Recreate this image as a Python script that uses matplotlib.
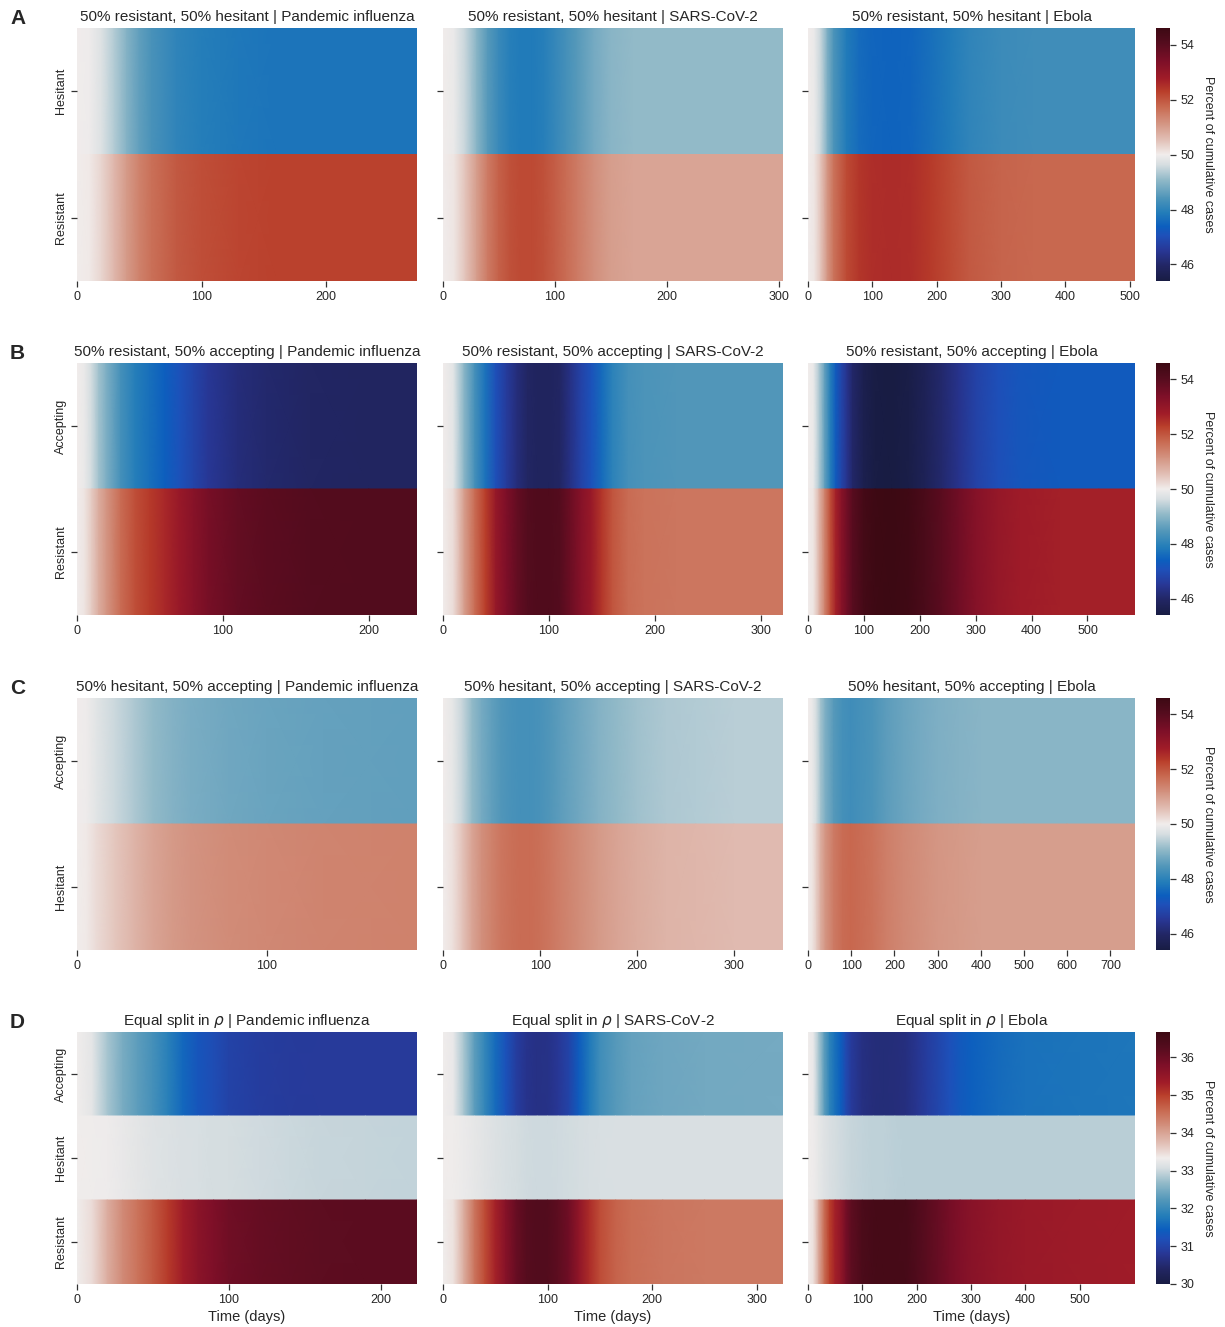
import numpy as np
import matplotlib
matplotlib.use("Agg")
import matplotlib.pyplot as plt
from matplotlib.colors import LinearSegmentedColormap, Normalize
from matplotlib.cm import ScalarMappable

plt.rcParams['font.family'] = ['Liberation Sans', 'DejaVu Sans']
TXT = '#262626'
plt.rcParams['text.color'] = TXT
plt.rcParams['axes.labelcolor'] = TXT
plt.rcParams['xtick.color'] = TXT
plt.rcParams['ytick.color'] = TXT

# ---------------- data ----------------
diseases = ["Pandemic influenza", "SARS-CoV-2", "Ebola"]
row_titles = ["50% resistant, 50% hesitant", "50% resistant, 50% accepting",
              "50% hesitant, 50% accepting", r"Equal split in $\rho$"]
panel_letters = ["A", "B", "C", "D"]
row_labels = [["Hesitant", "Resistant"], ["Accepting", "Resistant"],
              ["Accepting", "Hesitant"], ["Accepting", "Hesitant", "Resistant"]]

# Row A
A_flu_days = [0, 10, 20, 30, 40, 50, 60, 80, 100, 130, 160, 200, 240, 273]
A_flu_hes = [50.0, 49.95, 49.7, 49.35, 48.95, 48.6, 48.35, 48.05, 47.9, 47.8, 47.75, 47.75, 47.75, 47.75]
A_flu_res = [50.0, 50.05, 50.3, 50.65, 51.05, 51.4, 51.65, 51.95, 52.1, 52.2, 52.25, 52.25, 52.25, 52.25]

A_sars_days = [0, 10, 20, 30, 40, 50, 60, 70, 80, 90, 100, 110, 120, 135, 150, 170, 200, 250, 304]
A_sars_hes = [50.0, 49.9, 49.5, 49.0, 48.5, 48.15, 47.95, 47.85, 47.85, 47.95, 48.1, 48.3, 48.5, 48.8, 49.0, 49.1, 49.1, 49.1, 49.1]
A_sars_res = [50.0, 50.1, 50.5, 51.0, 51.5, 51.85, 52.05, 52.15, 52.15, 52.05, 51.9, 51.7, 51.5, 51.2, 51.0, 50.9, 50.9, 50.9, 50.9]

A_ebola_days = [0, 10, 20, 30, 40, 60, 80, 100, 130, 160, 190, 220, 250, 300, 350, 400, 450, 508]
A_ebola_hes = [50.0, 49.9, 49.5, 48.9, 48.4, 47.85, 47.6, 47.5, 47.45, 47.5, 47.65, 47.85, 48.05, 48.2, 48.25, 48.25, 48.25, 48.25]
A_ebola_res = [50.0, 50.1, 50.5, 51.1, 51.6, 52.15, 52.4, 52.5, 52.55, 52.5, 52.35, 52.15, 51.95, 51.8, 51.75, 51.75, 51.75, 51.75]

# Row B
B_flu_days = [0, 5, 10, 15, 20, 30, 40, 50, 60, 70, 80, 90, 110, 130, 160, 200, 233]
B_flu_acc = [50.0, 49.9, 49.6, 49.2, 48.9, 48.3, 47.9, 47.65, 47.4, 47.1, 46.8, 46.5, 46.2, 46.05, 45.95, 45.9, 45.9]
B_flu_res = [50.0, 50.1, 50.4, 50.8, 51.1, 51.7, 52.1, 52.35, 52.6, 52.9, 53.2, 53.5, 53.8, 53.95, 54.05, 54.1, 54.1]

B_sars_days = [0, 10, 20, 30, 40, 50, 60, 70, 80, 90, 100, 110, 120, 130, 140, 150, 160, 175, 190, 220, 260, 321]
B_sars_acc = [50.0, 49.8, 49.0, 48.3, 47.7, 47.05, 46.6, 46.2, 45.95, 45.85, 45.85, 45.95, 46.3, 46.75, 47.1, 47.6, 48.0, 48.3, 48.4, 48.45, 48.45, 48.45]
B_sars_res = [50.0, 50.2, 51.0, 51.7, 52.3, 52.95, 53.4, 53.8, 54.05, 54.15, 54.15, 54.05, 53.7, 53.25, 52.9, 52.4, 52.0, 51.7, 51.6, 51.55, 51.55, 51.55]

B_ebola_days = [0, 10, 20, 30, 40, 50, 60, 70, 80, 100, 120, 150, 180, 210, 240, 270, 300, 340, 380, 450, 520, 585]
B_ebola_acc = [50.0, 49.9, 49.3, 48.6, 47.9, 47.3, 46.8, 46.4, 46.0, 45.6, 45.45, 45.4, 45.5, 45.75, 46.05, 46.4, 46.75, 47.05, 47.2, 47.3, 47.3, 47.3]
B_ebola_res = [50.0, 50.1, 50.7, 51.4, 52.1, 52.7, 53.2, 53.6, 54.0, 54.4, 54.55, 54.6, 54.5, 54.25, 53.95, 53.6, 53.25, 52.95, 52.8, 52.7, 52.7, 52.7]

# Row C
C_flu_days = [0, 5, 10, 20, 30, 40, 50, 60, 80, 100, 130, 179]
C_flu_acc = [50.0, 49.95, 49.8, 49.55, 49.3, 49.1, 48.95, 48.85, 48.75, 48.7, 48.65, 48.6]
C_flu_hes = [50.0, 50.05, 50.2, 50.45, 50.7, 50.9, 51.05, 51.15, 51.25, 51.3, 51.35, 51.4]

C_sars_days = [0, 10, 20, 30, 40, 50, 60, 70, 80, 90, 100, 110, 120, 140, 160, 180, 200, 230, 260, 300, 350]
C_sars_acc = [50.0, 49.85, 49.5, 49.1, 48.8, 48.6, 48.45, 48.35, 48.3, 48.3, 48.35, 48.45, 48.55, 48.75, 48.95, 49.1, 49.2, 49.3, 49.35, 49.4, 49.4]
C_sars_hes = [50.0, 50.15, 50.5, 50.9, 51.2, 51.4, 51.55, 51.65, 51.7, 51.7, 51.65, 51.55, 51.45, 51.25, 51.05, 50.9, 50.8, 50.7, 50.65, 50.6, 50.6]

C_ebola_days = [0, 10, 20, 30, 40, 60, 80, 100, 120, 150, 180, 220, 260, 300, 350, 400, 500, 600, 757]
C_ebola_acc = [50.0, 49.9, 49.6, 49.2, 48.9, 48.5, 48.3, 48.25, 48.3, 48.4, 48.55, 48.7, 48.8, 48.9, 48.95, 49.0, 49.0, 49.0, 49.0]
C_ebola_hes = [50.0, 50.1, 50.4, 50.8, 51.1, 51.5, 51.7, 51.75, 51.7, 51.6, 51.45, 51.3, 51.2, 51.1, 51.05, 51.0, 51.0, 51.0, 51.0]

# Row D
D_flu_days = [0, 10, 20, 30, 40, 50, 60, 70, 80, 90, 100, 120, 140, 160, 190, 224]
D_flu_acc = [33.33, 33.2, 32.8, 32.5, 32.3, 32.1, 31.85, 31.55, 31.3, 31.15, 31.0, 30.9, 30.87, 30.85, 30.85, 30.85]
D_flu_hes = [33.33, 33.32, 33.3, 33.25, 33.2, 33.15, 33.12, 33.1, 33.08, 33.06, 33.05, 33.03, 33.0, 32.98, 32.96, 32.95]
D_flu_res = [33.33, 33.48, 33.9, 34.25, 34.5, 34.75, 35.03, 35.35, 35.62, 35.79, 35.95, 36.07, 36.13, 36.17, 36.19, 36.2]

D_sars_days = [0, 10, 20, 30, 40, 50, 60, 70, 80, 90, 100, 110, 120, 130, 140, 150, 165, 180, 210, 250, 325]
D_sars_acc = [33.33, 33.25, 32.8, 32.3, 31.95, 31.6, 31.25, 30.9, 30.72, 30.67, 30.68, 30.8, 31.0, 31.4, 31.75, 32.05, 32.25, 32.35, 32.42, 32.46, 32.47]
D_sars_hes = [33.33, 33.32, 33.28, 33.22, 33.17, 33.12, 33.08, 33.05, 33.03, 33.02, 33.02, 33.03, 33.04, 33.06, 33.07, 33.08, 33.09, 33.1, 33.1, 33.1, 33.1]
D_sars_res = [33.33, 33.43, 33.92, 34.48, 34.88, 35.28, 35.67, 36.05, 36.25, 36.31, 36.3, 36.17, 35.96, 35.54, 35.18, 34.87, 34.66, 34.55, 34.48, 34.44, 34.43]

D_ebola_days = [0, 10, 20, 30, 40, 50, 60, 70, 80, 100, 120, 140, 160, 180, 200, 220, 240, 260, 280, 300, 350, 400, 500, 602]
D_ebola_acc = [33.33, 33.25, 32.8, 32.3, 31.9, 31.65, 31.45, 31.1, 30.85, 30.65, 30.58, 30.57, 30.58, 30.62, 30.75, 30.9, 31.05, 31.2, 31.35, 31.45, 31.58, 31.66, 31.7, 31.72]
D_ebola_hes = [33.33, 33.3, 33.22, 33.15, 33.1, 33.06, 33.03, 33.0, 32.98, 32.95, 32.93, 32.92, 32.91, 32.9, 32.9, 32.9, 32.9, 32.9, 32.9, 32.9, 32.9, 32.9, 32.9, 32.9]
D_ebola_res = [33.34, 33.45, 33.98, 34.55, 35.0, 35.29, 35.52, 35.9, 36.17, 36.4, 36.49, 36.51, 36.51, 36.48, 36.35, 36.2, 36.05, 35.9, 35.75, 35.65, 35.5, 35.42, 35.38, 35.35]

xticks = [
    [[0, 100, 200], [0, 100, 200, 300], [0, 100, 200, 300, 400, 500]],
    [[0, 100, 200], [0, 100, 200, 300], [0, 100, 200, 300, 400, 500]],
    [[0, 100], [0, 100, 200, 300], [0, 100, 200, 300, 400, 500, 600, 700]],
    [[0, 100, 200], [0, 100, 200, 300], [0, 100, 200, 300, 400, 500]],
]
cbar_ranges = [(45.4, 54.6), (45.4, 54.6), (45.4, 54.6), (30.0, 36.67)]
cbar_ticks = [[46, 48, 50, 52, 54], [46, 48, 50, 52, 54], [46, 48, 50, 52, 54],
              [30, 31, 32, 33, 34, 35, 36]]

panels = [
    [(A_flu_days, [A_flu_hes, A_flu_res]), (A_sars_days, [A_sars_hes, A_sars_res]),
     (A_ebola_days, [A_ebola_hes, A_ebola_res])],
    [(B_flu_days, [B_flu_acc, B_flu_res]), (B_sars_days, [B_sars_acc, B_sars_res]),
     (B_ebola_days, [B_ebola_acc, B_ebola_res])],
    [(C_flu_days, [C_flu_acc, C_flu_hes]), (C_sars_days, [C_sars_acc, C_sars_hes]),
     (C_ebola_days, [C_ebola_acc, C_ebola_hes])],
    [(D_flu_days, [D_flu_acc, D_flu_hes, D_flu_res]), (D_sars_days, [D_sars_acc, D_sars_hes, D_sars_res]),
     (D_ebola_days, [D_ebola_acc, D_ebola_hes, D_ebola_res])],
]

# ---------------- colormap (cmocean 'balance'-like) ----------------
anchors = [
    (0.000, (24, 28, 67)), (0.060, (34, 38, 100)), (0.120, (40, 55, 150)),
    (0.180, (30, 80, 185)), (0.215, (12, 94, 190)), (0.270, (35, 125, 185)),
    (0.330, (80, 150, 185)), (0.400, (145, 185, 200)), (0.460, (215, 222, 225)),
    (0.500, (241, 237, 236)), (0.560, (225, 190, 180)), (0.620, (212, 150, 132)),
    (0.690, (200, 105, 80)), (0.750, (185, 62, 42)), (0.800, (160, 28, 40)),
    (0.870, (125, 15, 40)), (0.940, (85, 12, 30)), (1.000, (60, 9, 19)),
]
cmap = LinearSegmentedColormap.from_list(
    "balance_like", [(p, tuple(c / 255 for c in rgb)) for p, rgb in anchors], N=512)

# ---------------- layout ----------------
W, H = 1225, 1327
fig = plt.figure(figsize=(W / 100, H / 100), dpi=100)

col_x = [(77, 417), (443, 783), (808, 1135)]
row_y = [(28, 281), (363, 615), (698, 950), (1032, 1284)]
cbar_x = (1156, 1170)


def px_rect(x0, x1, y0, y1):
    return [x0 / W, 1 - y1 / H, (x1 - x0) / W, (y1 - y0) / H]


for r in range(4):
    vmin, vmax = cbar_ranges[r]
    norm = Normalize(vmin=vmin, vmax=vmax)
    y0, y1 = row_y[r]
    for c in range(3):
        x0, x1 = col_x[c]
        ax = fig.add_axes(px_rect(x0, x1, y0, y1))
        days, series = panels[r][c]
        days = np.asarray(days, dtype=float)
        nrows = len(series)
        for i, vals in enumerate(series):
            vals = np.asarray(vals, dtype=float)
            X = np.vstack([days, days])
            Y = np.vstack([np.full_like(days, i), np.full_like(days, i + 1)])
            C = np.vstack([vals, vals])
            ax.pcolormesh(X, Y, C, shading='gouraud', cmap=cmap, norm=norm,
                          rasterized=True)
        ax.set_xlim(0, days[-1])
        ax.set_ylim(nrows, 0)
        for s in ax.spines.values():
            s.set_visible(False)
        ax.set_xticks(xticks[r][c])
        ax.set_xticklabels([str(t) for t in xticks[r][c]], fontsize=9)
        ax.set_yticks(np.arange(nrows) + 0.5)
        if c == 0:
            ax.set_yticklabels(row_labels[r], rotation=90, va='center', fontsize=9)
        else:
            ax.set_yticklabels([])
        ax.tick_params(axis='both', direction='out', length=4, width=0.9,
                       color='#333333', pad=3)
        ax.set_title(f"{row_titles[r]} | {diseases[c]}", fontsize=11, pad=5,
                     color=TXT)
        if r == 3:
            ax.set_xlabel("Time (days)", fontsize=10.5, labelpad=3)
    # colorbar
    cax = fig.add_axes(px_rect(cbar_x[0], cbar_x[1], y0, y1))
    sm = ScalarMappable(norm=norm, cmap=cmap)
    cb = fig.colorbar(sm, cax=cax)
    cb.outline.set_visible(False)
    cb.set_ticks(cbar_ticks[r])
    cb.ax.tick_params(labelsize=9, length=4, width=0.9, color='#333333')
    cb.set_label("Percent of cumulative cases", rotation=270, fontsize=9,
                 labelpad=14)
    # panel letter
    fig.text(10 / W, 1 - (y0 - 9) / H, panel_letters[r], fontsize=15,
             fontweight='bold', va='center', ha='left')

fig.savefig("out.png", dpi=100)
